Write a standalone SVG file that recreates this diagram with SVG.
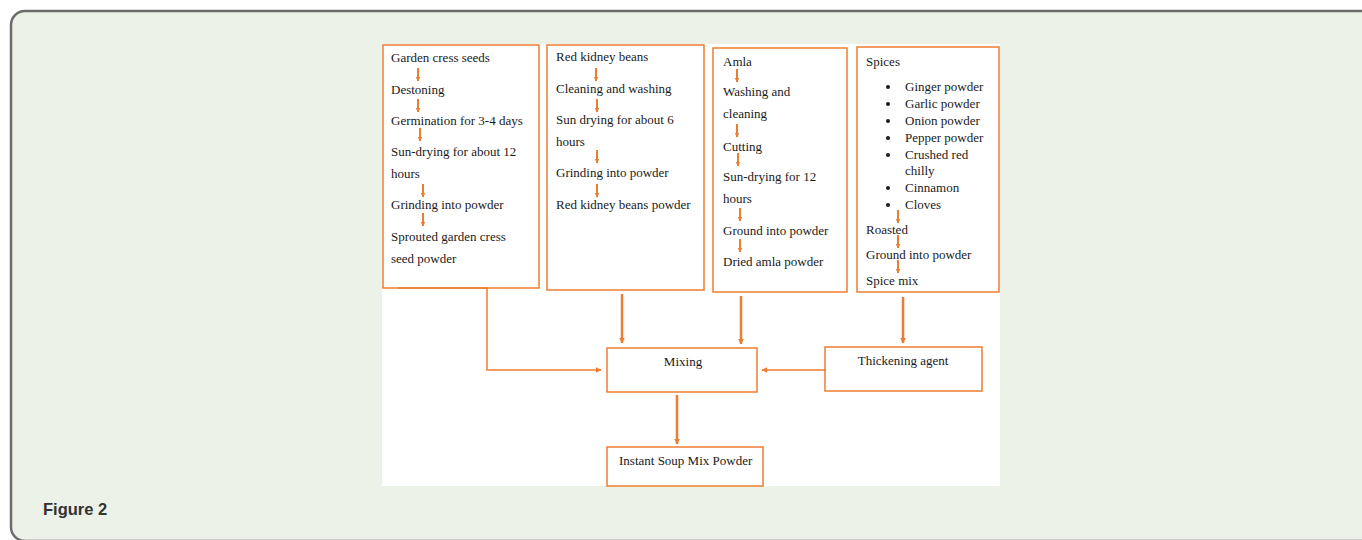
<svg xmlns="http://www.w3.org/2000/svg" width="1362" height="540" viewBox="0 0 1362 540">
<defs>
<marker id="ah" viewBox="0 0 10 10" refX="9" refY="5" markerWidth="6" markerHeight="6" markerUnits="userSpaceOnUse" orient="auto"><path d="M0,0 L10,5 L0,10 z" fill="#ED7D31"/></marker>
<marker id="ahs" viewBox="0 0 10 10" refX="9" refY="5" markerWidth="5" markerHeight="6" markerUnits="userSpaceOnUse" orient="auto"><path d="M0,0 L10,5 L0,10 z" fill="#ED7D31"/></marker>
</defs>
<style>
.box{fill:#fff;stroke:#ED7D31;stroke-width:1.5}
.t{font-family:"Liberation Serif","Times New Roman",serif;font-size:13px;fill:#1a1a1a}
.c{text-anchor:middle}
.sa{stroke:#ED7D31;stroke-width:2;fill:none;marker-end:url(#ahs)}
.con{stroke:#ED7D31;fill:none;marker-end:url(#ah)}
</style>
<rect x="11" y="11" width="1365" height="530" rx="14" fill="#ECF2E7" stroke="#6d6d6d" stroke-width="2.5"/>
<rect x="382" y="44" width="618" height="442" fill="#fff"/>

<g id="box-garden">
<rect class="box" x="383" y="45" width="156" height="243"/>
<text class="t" x="391" y="62">Garden cress seeds</text>
<path class="sa" d="M418,68 V81"/>
<text class="t" x="391" y="94">Destoning</text>
<path class="sa" d="M418,99 V112"/>
<text class="t" x="391" y="125">Germination for 3-4 days</text>
<path class="sa" d="M420,128 V141"/>
<text class="t" x="391" y="156">Sun-drying for about 12</text>
<text class="t" x="391" y="178">hours</text>
<path class="sa" d="M423,184 V197"/>
<text class="t" x="391" y="209">Grinding into powder</text>
<path class="sa" d="M423,213 V226"/>
<text class="t" x="391" y="241">Sprouted garden cress</text>
<text class="t" x="391" y="263">seed powder</text>
</g>

<g id="box-kidney">
<rect class="box" x="547" y="45" width="157" height="245"/>
<text class="t" x="556" y="61">Red kidney beans</text>
<path class="sa" d="M596,68 V81"/>
<text class="t" x="556" y="93">Cleaning and washing</text>
<path class="sa" d="M597,99 V112"/>
<text class="t" x="556" y="124">Sun drying for about 6</text>
<text class="t" x="556" y="146">hours</text>
<path class="sa" d="M597,150 V163"/>
<text class="t" x="556" y="177">Grinding into powder</text>
<path class="sa" d="M597,184 V197"/>
<text class="t" x="556" y="209">Red kidney beans powder</text>
</g>

<g id="box-amla">
<rect class="box" x="713" y="48" width="134" height="244"/>
<text class="t" x="723" y="66">Amla</text>
<path class="sa" d="M737,69 V82"/>
<text class="t" x="723" y="96">Washing and</text>
<text class="t" x="723" y="118">cleaning</text>
<path class="sa" d="M737,124 V137"/>
<text class="t" x="723" y="151">Cutting</text>
<path class="sa" d="M738,153 V166"/>
<text class="t" x="723" y="181">Sun-drying for 12</text>
<text class="t" x="723" y="203">hours</text>
<path class="sa" d="M740,208 V221"/>
<text class="t" x="723" y="235">Ground into powder</text>
<path class="sa" d="M740,239 V252"/>
<text class="t" x="723" y="266">Dried amla powder</text>
</g>

<g id="box-spices">
<rect class="box" x="857" y="47" width="142" height="245"/>
<text class="t" x="866" y="66">Spices</text>
<circle cx="888" cy="87" r="2" fill="#1a1a1a"/><text class="t" x="905" y="91">Ginger powder</text>
<circle cx="888" cy="104" r="2" fill="#1a1a1a"/><text class="t" x="905" y="108">Garlic powder</text>
<circle cx="888" cy="121" r="2" fill="#1a1a1a"/><text class="t" x="905" y="125">Onion powder</text>
<circle cx="888" cy="138" r="2" fill="#1a1a1a"/><text class="t" x="905" y="142">Pepper powder</text>
<circle cx="888" cy="155" r="2" fill="#1a1a1a"/><text class="t" x="905" y="159">Crushed red</text>
<text class="t" x="905" y="175">chilly</text>
<circle cx="888" cy="188" r="2" fill="#1a1a1a"/><text class="t" x="905" y="192">Cinnamon</text>
<circle cx="888" cy="205" r="2" fill="#1a1a1a"/><text class="t" x="905" y="209">Cloves</text>
<path class="sa" d="M898,210 V223"/>
<text class="t" x="866" y="234">Roasted</text>
<path class="sa" d="M898,235 V248"/>
<text class="t" x="866" y="259">Ground into powder</text>
<path class="sa" d="M898,260 V273"/>
<text class="t" x="866" y="285">Spice mix</text>
</g>

<g id="box-mixing">
<rect class="box" x="607" y="348" width="150" height="44"/>
<text class="t c" x="683" y="366">Mixing</text>
</g>

<g id="box-thickening">
<rect class="box" x="825" y="347" width="157" height="44"/>
<text class="t c" x="903" y="365">Thickening agent</text>
</g>

<g id="box-instant">
<rect class="box" x="607" y="447" width="156" height="39"/>
<text class="t" x="619" y="465">Instant Soup Mix Powder</text>
</g>

<g id="connectors">
<path class="con" stroke-width="1.5" d="M398,288 H487 V370 H601"/>
<path class="con" stroke-width="2.5" d="M622,294 V343"/>
<path class="con" stroke-width="2.5" d="M741,296 V344"/>
<path class="con" stroke-width="2.5" d="M903,297 V343"/>
<path class="con" stroke-width="1.5" d="M826,370 H762"/>
<path class="con" stroke-width="2.5" d="M677,395 V444"/>
</g>

<text x="43" y="515" font-family="Liberation Sans, Arial, sans-serif" font-size="16.5" font-weight="bold" fill="#333">Figure 2</text>
</svg>
